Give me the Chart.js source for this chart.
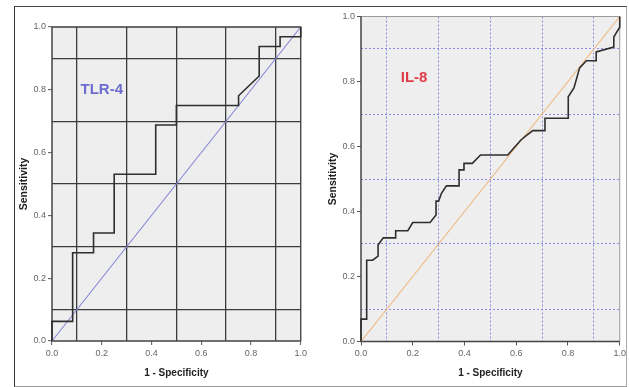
<!DOCTYPE html>
<html>
<head>
<meta charset="utf-8">
<script src="https://cdn.jsdelivr.net/npm/chart.js@4.4.0/dist/chart.umd.min.js"></script>
<style>
  html, body { margin: 0; padding: 0; background: #fff; }
  body { width: 629px; height: 387px; position: relative; overflow: hidden; }
  #frame {
    position: absolute; left: 14px; top: 6px; width: 613px; height: 381px;
    box-sizing: border-box;
    border-top: 1.5px solid #444; border-left: 1.5px solid #333;
    border-bottom: 1px solid #999; border-right: 1px solid #aaa;
  }
  .panel { position: absolute; top: 7px; height: 378px; }
  #leftPanel { left: 15px; width: 295px; }
  #rightPanel { left: 322px; width: 307px; }
</style>
</head>
<body>
<div id="frame"></div>
<div class="panel" id="leftPanel"><canvas id="tlrChart"></canvas></div>
<div class="panel" id="rightPanel"><canvas id="il8Chart"></canvas></div>

<script>
// --- Data ---
const tlrFpr = [0, 0, 0.083, 0.083, 0.167, 0.167, 0.25, 0.25, 0.417, 0.417, 0.5, 0.5, 0.75, 0.75, 0.833, 0.833, 0.917, 0.917, 1, 1];
const tlrTpr = [0, 0.0625, 0.0625, 0.281, 0.281, 0.344, 0.344, 0.531, 0.531, 0.688, 0.688, 0.75, 0.75, 0.781, 0.844, 0.938, 0.938, 0.969, 0.969, 1];

const il8Fpr = [0, 0, 0.022, 0.022, 0.045, 0.066, 0.066, 0.086, 0.134, 0.134, 0.181, 0.2, 0.267, 0.29, 0.29, 0.3, 0.311, 0.33, 0.379, 0.379, 0.398, 0.398, 0.43, 0.462, 0.567, 0.618, 0.641, 0.664, 0.711, 0.711, 0.801, 0.801, 0.823, 0.845, 0.871, 0.909, 0.909, 0.977, 0.977, 0.986, 1, 1];
const il8Tpr = [0, 0.069, 0.069, 0.25, 0.25, 0.263, 0.297, 0.319, 0.319, 0.341, 0.341, 0.366, 0.366, 0.389, 0.432, 0.432, 0.456, 0.479, 0.479, 0.528, 0.528, 0.548, 0.548, 0.574, 0.574, 0.62, 0.635, 0.649, 0.649, 0.687, 0.687, 0.753, 0.78, 0.842, 0.864, 0.864, 0.891, 0.906, 0.937, 0.949, 0.967, 1];

const refLine = [0, 1];          // chance diagonal, both axes
const axisTicks = [0, 1, 0.1];   // min, max, step

const FONT = 'Arial, "Liberation Sans", sans-serif';

function toPoints(xs, ys) {
  return xs.map((x, i) => ({ x: x, y: ys[i] }));
}

// grid lines sit on the odd tenths, labels/tick marks on the even ones
function isOdd(v) {
  return Math.round(v * 10) % 2 === 1;
}

// --- Plugins (background, frame, inline label) ---
const panelDecor = {
  id: 'panelDecor',
  beforeDraw(chart, args, opts) {
    const a = chart.chartArea, ctx = chart.ctx;
    ctx.save();
    ctx.fillStyle = opts.bg;
    ctx.fillRect(a.left, a.top, a.right - a.left, a.bottom - a.top);
    ctx.restore();
  },
  beforeDatasetsDraw(chart, args, opts) {
    const a = chart.chartArea, ctx = chart.ctx;
    ctx.save();
    ctx.setLineDash([]);
    // top / right edge of the frame
    ctx.strokeStyle = opts.frame;
    ctx.lineWidth = opts.frameWidth;
    ctx.beginPath();
    ctx.moveTo(a.left, a.top);
    ctx.lineTo(a.right, a.top);
    ctx.lineTo(a.right, a.bottom);
    ctx.stroke();
    // left / bottom axis lines
    ctx.strokeStyle = opts.axis;
    ctx.lineWidth = 1.5;
    ctx.beginPath();
    ctx.moveTo(a.left, a.top);
    ctx.lineTo(a.left, a.bottom);
    ctx.lineTo(a.right, a.bottom);
    ctx.stroke();
    ctx.restore();
  },
  afterDatasetsDraw(chart, args, opts) {
    const ctx = chart.ctx;
    const px = chart.scales.x.getPixelForValue(opts.labelAt[0]);
    const py = chart.scales.y.getPixelForValue(opts.labelAt[1]);
    ctx.save();
    ctx.font = 'bold 15px ' + FONT;
    ctx.fillStyle = opts.labelColor;
    ctx.textAlign = 'center';
    ctx.textBaseline = 'middle';
    ctx.fillText(opts.label, px, py);
    ctx.restore();
  }
};

function makeAxis(horizontal, gridColor, gridWidth, dash, size, titlePad) {
  return {
    type: 'linear',
    min: axisTicks[0],
    max: axisTicks[1],
    afterFit(scale) {
      if (horizontal) scale.height = size; else scale.width = size;
    },
    ticks: {
      stepSize: axisTicks[2],
      autoSkip: false,
      maxRotation: 0,
      padding: horizontal ? 3 : 2,
      color: '#666',
      font: { family: FONT, size: 9 },
      callback: v => isOdd(v) ? '' : v.toFixed(1)
    },
    grid: {
      drawTicks: true,
      tickLength: 4,
      lineWidth: gridWidth,
      color: ctx => (ctx.tick && isOdd(ctx.tick.value)) ? gridColor : 'rgba(0,0,0,0)',
      tickColor: ctx => (ctx.tick && isOdd(ctx.tick.value)) ? 'rgba(0,0,0,0)' : '#555',
      tickWidth: 1,
      tickBorderDash: []
    },
    border: { display: false, dash: dash },
    title: {
      display: true,
      text: horizontal ? '1 - Specificity' : 'Sensitivity',
      color: '#222',
      padding: { top: titlePad, bottom: titlePad },
      font: { family: FONT, size: horizontal ? 10 : 10.5, weight: 'bold' }
    }
  };
}

function makeRoc(canvasId, xs, ys, cfg) {
  return new Chart(document.getElementById(canvasId), {
    type: 'scatter',
    data: {
      datasets: [
        {
          data: toPoints(xs, ys),
          showLine: true,
          borderColor: '#2e2e2e',
          borderWidth: 1.6,
          pointRadius: 0,
          tension: 0,
          clip: 3
        },
        {
          data: toPoints(refLine, refLine),
          showLine: true,
          borderColor: cfg.refColor,
          borderWidth: 1.1,
          pointRadius: 0,
          clip: 3
        }
      ]
    },
    options: {
      responsive: true,
      maintainAspectRatio: false,
      animation: false,
      events: [],
      layout: { padding: cfg.padding },
      plugins: {
        legend: { display: false },
        tooltip: { enabled: false },
        panelDecor: {
          bg: '#eeeeee',
          frame: cfg.frame,
          frameWidth: cfg.frameWidth,
          axis: '#444',
          label: cfg.label,
          labelColor: cfg.labelColor,
          labelAt: cfg.labelAt
        }
      },
      scales: {
        x: makeAxis(true, cfg.gridColor, cfg.gridWidth, cfg.dash, cfg.xSize, 6),
        y: makeAxis(false, cfg.gridColor, cfg.gridWidth, cfg.dash, cfg.ySize, cfg.yTitlePad)
      }
    },
    plugins: [panelDecor]
  });
}

// --- Left: TLR-4 ---
makeRoc('tlrChart', tlrFpr, tlrTpr, {
  refColor: '#8585d6',
  gridColor: '#3c3c3c',
  gridWidth: 1.3,
  dash: [],
  frame: '#3c3c3c',
  frameWidth: 1.3,
  padding: { left: 0, top: 20, right: 8, bottom: 0 },
  xSize: 44,
  ySize: 37,
  yTitlePad: 3,
  label: 'TLR-4',
  labelColor: '#6c6cd0',
  labelAt: [0.2, 0.8]
});

// --- Right: IL-8 ---
makeRoc('il8Chart', il8Fpr, il8Tpr, {
  refColor: '#efb67c',
  gridColor: '#8a8ae2',
  gridWidth: 1,
  dash: [2, 2],
  frame: '#9a9a9a',
  frameWidth: 1,
  padding: { left: 0, top: 9.5, right: 7, bottom: 0 },
  xSize: 43.5,
  ySize: 39,
  yTitlePad: 5,
  label: 'IL-8',
  labelColor: '#e03a48',
  labelAt: [0.205, 0.81]
});
</script>
</body>
</html>
